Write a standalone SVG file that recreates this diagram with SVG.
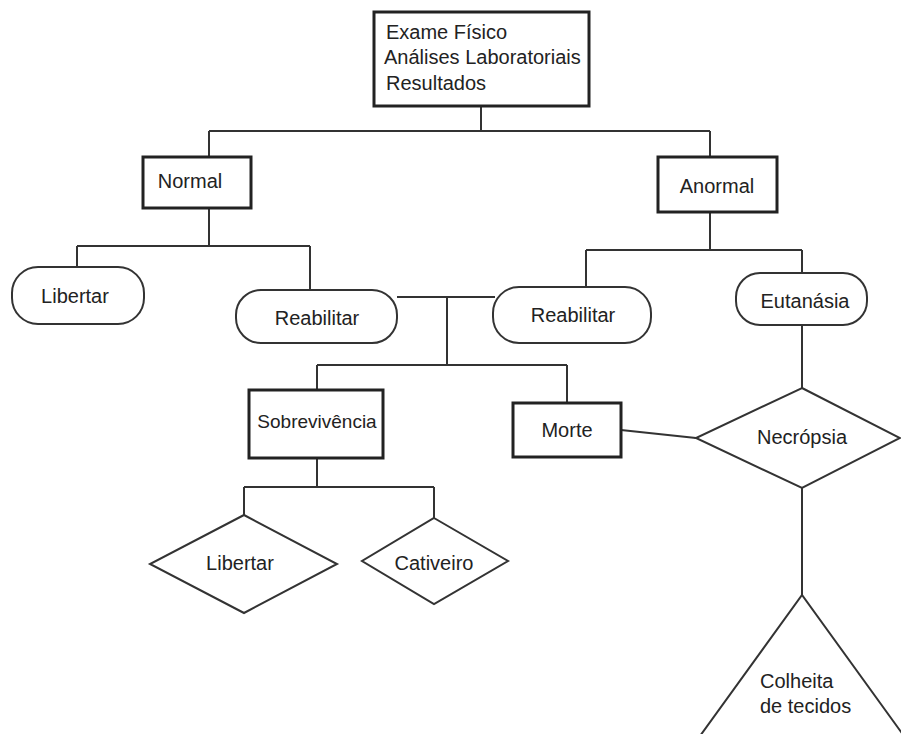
<svg xmlns="http://www.w3.org/2000/svg" width="901" height="734" viewBox="0 0 901 734">
<style>
.box{fill:#fff;stroke:#222;stroke-width:3}
.rnd{fill:#fff;stroke:#333;stroke-width:2}
.dia{fill:#fff;stroke:#333;stroke-width:2}
.ln{fill:none;stroke:#333;stroke-width:2}
text{font-family:"Liberation Sans",Arial,sans-serif;font-size:20px;fill:#222}
.c{text-anchor:middle}
</style>
<rect width="901" height="734" fill="#fff"/>
<g id="connectors">
<path class="ln" d="M481,106 V131 M209,131 H710 M209,131 V157 M710,131 V157"/>
<path class="ln" d="M209,208 V246 M77,246 H310 M77,246 V267 M310,246 V290"/>
<path class="ln" d="M710,212 V250 M586,250 H802 M586,250 V287 M802,250 V273"/>
<path class="ln" d="M397,297 H495 M447,297 V365 M317,365 H567 M317,365 V390 M567,365 V403"/>
<path class="ln" d="M317,458 V487 M244,487 H434 M244,487 V515 M434,487 V518"/>
<path class="ln" d="M802,325 V388 M621,430 L696,438 M802,488 V595"/>
</g>
<g id="exame">
<rect class="box" x="374" y="12" width="215" height="94"/>
<text x="386" y="39">Exame Físico</text>
<text x="384" y="64">Análises Laboratoriais</text>
<text x="386" y="90">Resultados</text>
</g>
<g id="normal">
<rect class="box" x="143" y="157" width="108" height="51"/>
<text class="c" x="190" y="188">Normal</text>
</g>
<g id="anormal">
<rect class="box" x="658" y="157" width="119" height="55"/>
<text class="c" x="717" y="193">Anormal</text>
</g>
<g id="libertar1">
<rect class="rnd" x="12" y="267" width="132" height="57" rx="26"/>
<text class="c" x="75" y="303">Libertar</text>
</g>
<g id="reabilitar1">
<rect class="rnd" x="236" y="290" width="161" height="53" rx="25"/>
<text class="c" x="317" y="325">Reabilitar</text>
</g>
<g id="reabilitar2">
<rect class="rnd" x="493" y="287" width="158" height="56" rx="26"/>
<text class="c" x="573" y="322">Reabilitar</text>
</g>
<g id="eutanasia">
<rect class="rnd" x="736" y="273" width="131" height="52" rx="24"/>
<text class="c" x="805" y="308">Eutanásia</text>
</g>
<g id="sobrevivencia">
<rect class="box" x="249" y="390" width="134" height="68"/>
<text class="c" x="317" y="428" font-size="19" style="font-size:19px">Sobrevivência</text>
</g>
<g id="morte">
<rect class="box" x="513" y="403" width="108" height="54"/>
<text class="c" x="567" y="437">Morte</text>
</g>
<g id="libertar2">
<polygon class="dia" points="244,515 337,564 244,613 150,564"/>
<text class="c" x="240" y="570">Libertar</text>
</g>
<g id="cativeiro">
<polygon class="dia" points="434,518 508,561 434,604 362,561"/>
<text class="c" x="434" y="570">Cativeiro</text>
</g>
<g id="necropsia">
<polygon class="dia" points="802,388 900,438 802,488 696,438"/>
<text class="c" x="802" y="444">Necrópsia</text>
</g>
<g id="colheita">
<polyline class="ln" points="700,736 802,595 904,736"/>
<text x="760" y="688">Colheita</text>
<text x="760" y="713">de tecidos</text>
</g>
</svg>
